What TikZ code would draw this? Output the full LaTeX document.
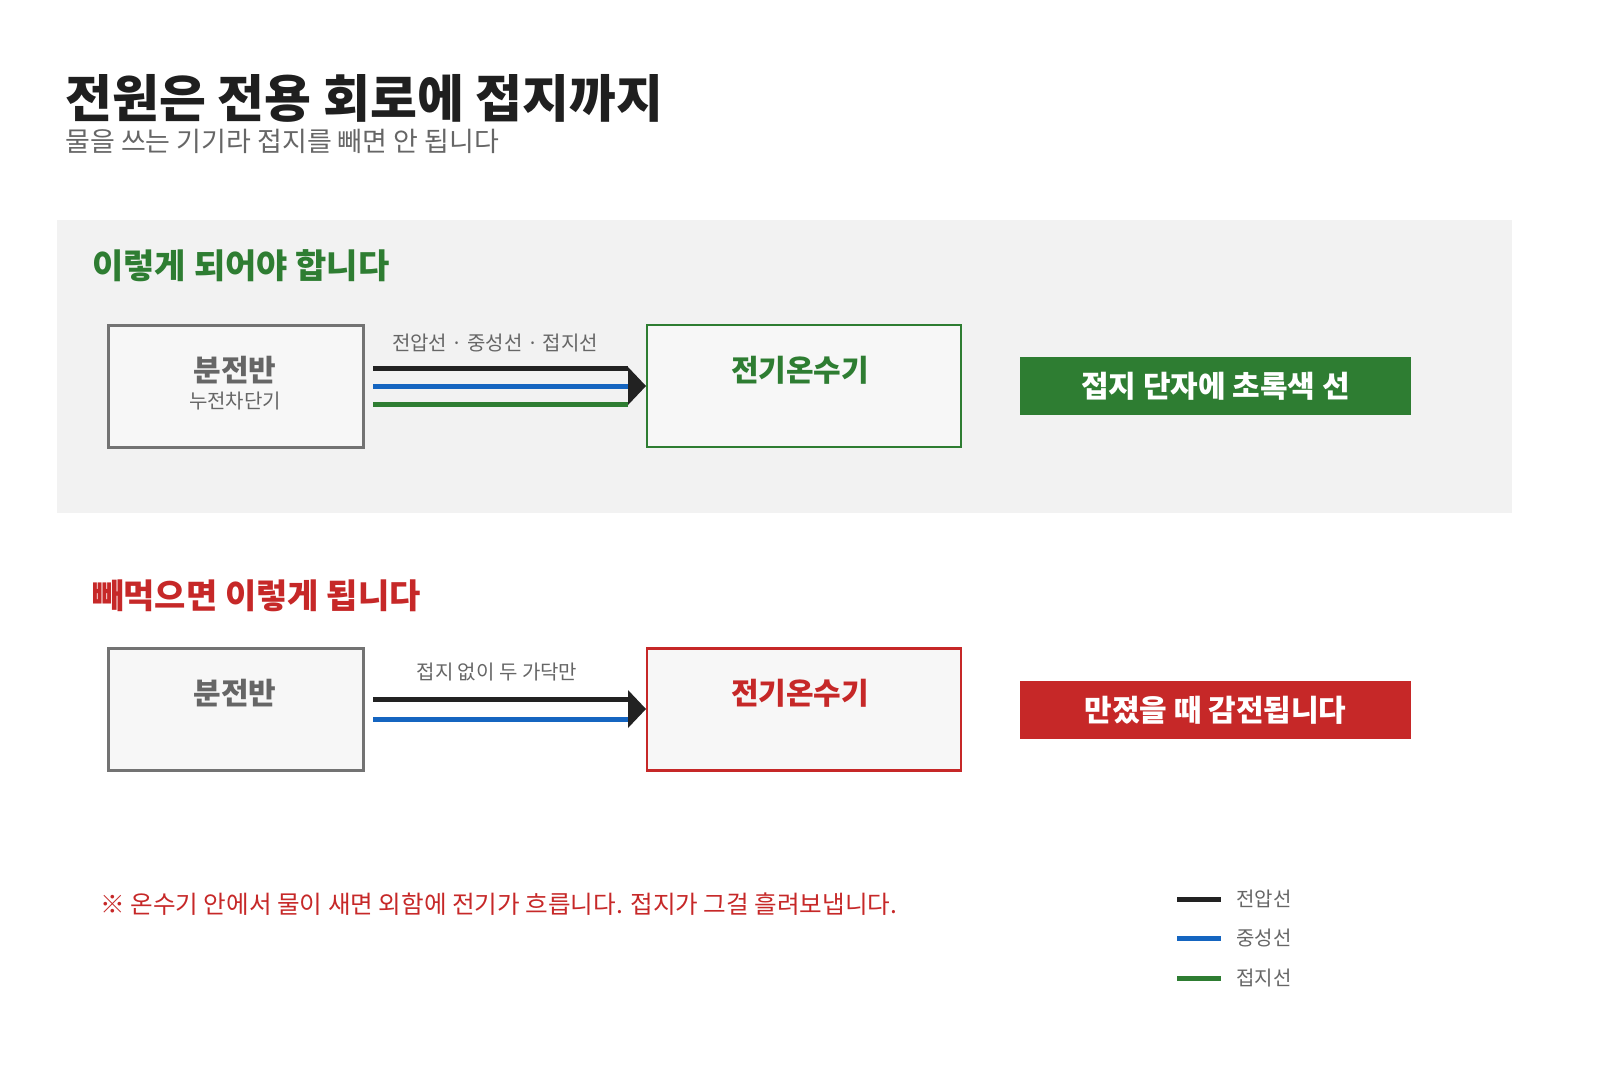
\documentclass[tikz,border=0pt]{standalone}
\usepackage{fontspec}
\setmainfont{Noto Sans CJK KR}
\usetikzlibrary{positioning,arrows.meta}
\definecolor{okgreen}{HTML}{2E7D32}
\definecolor{badred}{HTML}{C62828}
\definecolor{wireblue}{HTML}{1565C0}
\definecolor{wireblack}{HTML}{222222}
\definecolor{panelgray}{HTML}{F2F2F2}
\tikzset{
    box/.style={
    rectangle,draw=#1,line width=1.5pt,fill=white!97!black,minimum width=127.5pt,minimum height=61pt,inner sep=0pt
    },
    heater/.style={
    rectangle,draw=#1,line width=1.2pt,fill=white!97!black,minimum width=157pt,minimum height=61pt,inner sep=0pt
    },
    banner/.style={
    rectangle,fill=#1,text=white,font=\fontsize{15}{15}\selectfont\bfseries,minimum width=195.5pt,minimum height=29pt,inner sep=0pt
    },
    wire/.style={
    line width=2.5pt,draw=#1
    },
    small/.style={
    font=\fontsize{10}{10}\selectfont,text=black!60,inner sep=0pt
    },
}
\begin{document}
\begin{tikzpicture}[x=0.5pt,y=-0.5pt]
   \useasboundingbox (0,0) rectangle (1600,1067);
   \node[anchor=west,inner sep=0pt,font=\fontsize{25.5}{25.5}\selectfont\bfseries,text=black!88] (title) at (65,98) {전원은 전용 회로에 접지까지};
   \node[anchor=west,inner sep=0pt,font=\fontsize{13.5}{13.5}\selectfont,text=black!60] (sub) at (65,141) {물을 쓰는 기기라 접지를 빼면 안 됩니다};
   \fill[panelgray] (57,220) rectangle (1512,513);

   % good case
   \node[anchor=west,inner sep=0pt,font=\fontsize{17}{17}\selectfont\bfseries,text=okgreen] (goodhead) at (92,266) {이렇게 되어야 합니다};
   \node[box=black!55] (panel1) at (235.5,386) {};
   \node[font=\fontsize{15}{15}\selectfont\bfseries,text=black!60,inner sep=0pt] (p1name) at (235,370) {분전반};
   \node[small] (p1sub) at (235,401) {누전차단기};
   \node[heater=okgreen] (heat1) at (804,386) {};
   \node[font=\fontsize{15}{15}\selectfont\bfseries,text=okgreen,inner sep=0pt] (h1name) at (800,370) {전기온수기};
   \node[small] (wires1) at (495,343) {전압선 · 중성선 · 접지선};
   \coordinate (a1) at (373,386);
   \coordinate (b1) at (628,386);
   \draw[wire=wireblack] ([yshift=9pt]a1) -- ([yshift=9pt]b1);
   \draw[wire=wireblue] (a1) -- (b1);
   \draw[wire=okgreen] ([yshift=-9pt]a1) -- ([yshift=-9pt]b1);
   \fill[wireblack] (628,367) -- (646,386) -- (628,405) -- cycle;
   \node[banner=okgreen] (goodnote) at (1215.5,386) {접지 단자에 초록색 선};

   % bad case
   \node[anchor=west,inner sep=0pt,font=\fontsize{17}{17}\selectfont\bfseries,text=badred] (badhead) at (92,596) {빼먹으면 이렇게 됩니다};
   \node[box=black!55] (panel2) at (235.5,709.5) {};
   \node[font=\fontsize{15}{15}\selectfont\bfseries,text=black!60,inner sep=0pt] (p2name) at (235,693) {분전반};
   \node[heater=badred] (heat2) at (804,709.5) {};
   \node[font=\fontsize{15}{15}\selectfont\bfseries,text=badred,inner sep=0pt] (h2name) at (800,693) {전기온수기};
   \node[small] (wires2) at (497,672) {접지 없이 두 가닥만};
   \coordinate (a2) at (373,709);
   \coordinate (b2) at (628,709);
   \draw[wire=wireblack] ([yshift=5pt]a2) -- ([yshift=5pt]b2);
   \draw[wire=wireblue] ([yshift=-5pt]a2) -- ([yshift=-5pt]b2);
   \fill[wireblack] (628,690) -- (646,709) -- (628,728) -- cycle;
   \node[banner=badred] (badnote) at (1215.5,710) {만졌을 때 감전됩니다};

   \node[anchor=west,inner sep=0pt,font=\fontsize{12.3}{12.3}\selectfont,text=badred] (foot) at (100,904) {※ 온수기 안에서 물이 새면 외함에 전기가 흐릅니다. 접지가 그걸 흘려보냅니다.};

   % legend
   \foreach \y/\c/\t [count=\i] in {899/wireblack/전압선,938/wireblue/중성선,978/okgreen/접지선}{
     \coordinate (l\i a) at (1177,\y);
     \coordinate (l\i b) at (1221,\y);
     \draw[wire=\c] (l\i a) -- (l\i b);
     \node[small,anchor=west] (l\i t) at (1236,\y) {\t};
   }
\end{tikzpicture}
\end{document}
